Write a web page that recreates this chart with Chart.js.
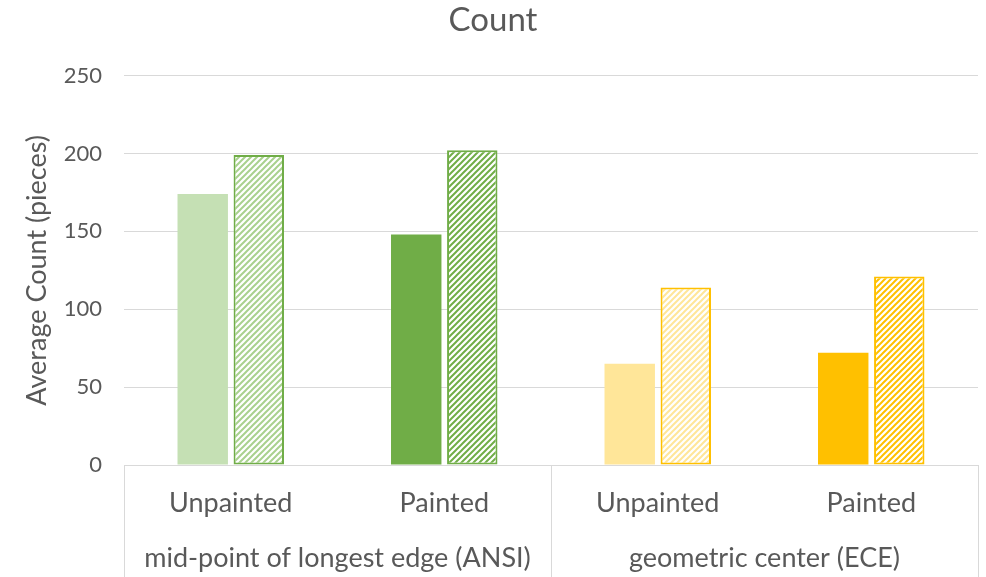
<!DOCTYPE html>
<html>
<head>
<meta charset="utf-8">
<script src="https://cdn.jsdelivr.net/npm/chart.js@4"></script>
<style>
  html, body { margin: 0; padding: 0; background: #fff; }
  #wrap { width: 986px; height: 577px; }
</style>
</head>
<body>
<div id="wrap"><canvas id="chart"></canvas></div>
<script>
const categories = ['Unpainted', 'Painted', 'Unpainted', 'Painted'];
const groups = ['mid-point of longest edge (ANSI)', 'geometric center (ECE)'];
const solidValues = [174, 148, 65, 72];
const hatchedValues = [199, 202, 114, 121];
const yTicks = [0, 50, 100, 150, 200, 250];

const FONT = 'Lato, "Open Sans", sans-serif';
const GREY = '#595959';
const LINE = '#d9d9d9';

const solidColors = ['#c5e0b4', '#70ad47', '#ffe699', '#ffc000'];
const hatchStripes = ['#a9d18e', '#70ad47', '#ffe699', '#ffc000'];
const hatchBorders = ['#70ad47', '#70ad47', '#ffc000', '#ffc000'];

function hatch(color) {
    const s = 6;
    const c = document.createElement('canvas');
    c.width = s; c.height = s;
    const g = c.getContext('2d');
    g.fillStyle = '#fff';
    g.fillRect(0, 0, s, s);
    g.strokeStyle = color;
    g.lineWidth = 2;
    g.beginPath();
    g.moveTo(0, s); g.lineTo(s, 0);
    g.moveTo(-s / 2, s / 2); g.lineTo(s / 2, -s / 2);
    g.moveTo(s / 2, s * 1.5); g.lineTo(s * 1.5, s / 2);
    g.stroke();
    return g.createPattern(c, 'repeat');
}

// separators between the category groups, below the axis
const groupLines = {
    id: 'groupLines',
    afterDraw(chart) {
        const x = chart.scales.x;
        const ctx = chart.ctx;
        const mid = (x.getPixelForValue(1) + x.getPixelForValue(2)) / 2;
        ctx.save();
        ctx.strokeStyle = LINE;
        ctx.lineWidth = 1;
        ctx.beginPath();
        [x.left, mid, x.right].forEach(px => {
            const p = Math.round(px) + 0.5;
            ctx.moveTo(p, chart.chartArea.bottom);
            ctx.lineTo(p, chart.height);
        });
        ctx.stroke();
        ctx.restore();
    }
};

const data = {
    labels: categories,
    datasets: [{
        label: 'solid',
        data: solidValues,
        backgroundColor: solidColors,
        borderWidth: 0
    }, {
        label: 'hatched',
        data: hatchedValues,
        backgroundColor: hatchStripes.map(hatch),
        borderColor: hatchBorders,
        borderWidth: 2,
        borderSkipped: false
    }]
};

new Chart(document.getElementById('chart'), {
    type: 'bar',
    data,
    plugins: [groupLines],
    options: {
        animation: false,
        responsive: true,
        maintainAspectRatio: false,
        layout: { padding: { left: 8, right: 8, top: 0, bottom: 0 } },
        datasets: {
            bar: { categoryPercentage: 0.525, barPercentage: 0.9 }
        },
        scales: {
            x: {
                grid: { display: false, drawTicks: false },
                border: { color: LINE },
                ticks: { color: GREY, font: { family: FONT, size: 27 }, padding: 22 },
                afterFit: (s) => { s.height = 56; }
            },
            x2: {
                type: 'category',
                position: 'bottom',
                labels: groups,
                offset: true,
                weight: 1,
                grid: { display: false, drawTicks: false },
                border: { display: false },
                ticks: { color: GREY, font: { family: FONT, size: 27 }, padding: 21 },
                afterFit: (s) => { s.height = 56; }
            },
            y: {
                min: 0,
                max: 250,
                afterBuildTicks: (s) => { s.ticks = yTicks.map(v => ({ value: v })); },
                afterFit: (s) => { s.width = 116; },
                grid: { color: LINE, drawTicks: false },
                border: { display: false },
                ticks: { color: GREY, font: { family: FONT, size: 22 }, padding: 22 },
                title: {
                    display: true,
                    text: 'Average Count (pieces)',
                    color: GREY,
                    font: { family: FONT, size: 27 },
                    padding: { top: 13, bottom: 12 }
                }
            }
        },
        plugins: {
            legend: { display: false },
            tooltip: { enabled: false },
            title: {
                display: true,
                text: 'Count',
                color: GREY,
                font: { family: FONT, size: 33, weight: 'normal' },
                padding: { top: 1, bottom: 35 }
            }
        }
    }
});
</script>
</body>
</html>
